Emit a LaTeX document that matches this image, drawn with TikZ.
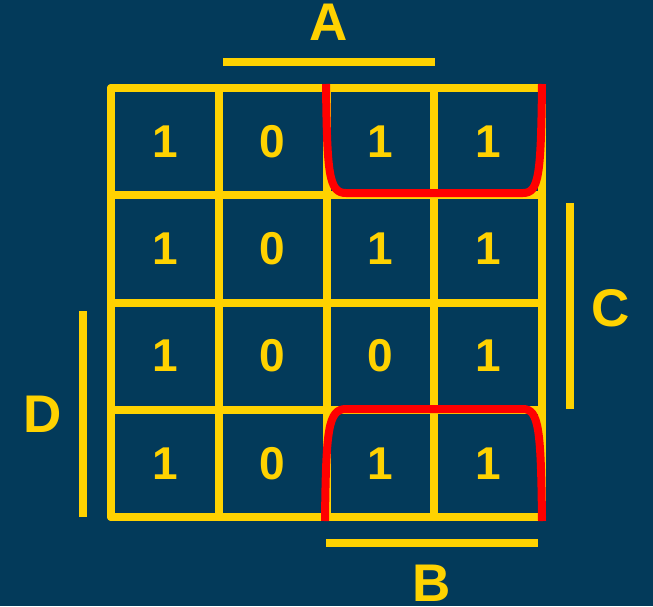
\documentclass[tikz,border=0pt]{standalone}
\usepackage{fontspec}
\setmainfont{Liberation Sans}
\definecolor{bgblue}{RGB}{3,58,90}
\definecolor{kyellow}{RGB}{255,210,0}
\definecolor{kred}{RGB}{255,0,0}
\tikzset{
  gridline/.style={draw=kyellow,line width=8pt,line cap=round,line join=round},
  barline/.style={draw=kyellow,line width=8pt},
  loopline/.style={draw=kred,line width=8pt},
  digit/.style={text=kyellow,inner sep=0pt,font=\bfseries\fontsize{46}{46}\selectfont},
  varlabel/.style={text=kyellow,inner sep=0pt,font=\bfseries\fontsize{53}{53}\selectfont}
}
\begin{document}
\begin{tikzpicture}[x=1pt,y=-1pt]
\fill[bgblue] (0,0) rectangle (653,606);
\useasboundingbox (0,0) rectangle (653,606);
% grid
\foreach \x in {111,218.75,326.5,434.25,542} \draw[gridline] (\x,88) -- (\x,517);
\foreach \y in {88,195.25,302.5,409.75,517} \draw[gridline] (111,\y) -- (542,\y);
% cell values
\def\vals{{1,0,1,1},{1,0,1,1},{1,0,0,1},{1,0,1,1}}
\foreach \r/\row in {1/{1,0,1,1},2/{1,0,1,1},3/{1,0,0,1},4/{1,0,1,1}}{
  \foreach \v [count=\c] in \row {
    \node[digit] (c\r\c) at ({111+(\c-0.5)*107.75},{88+(\r-0.5)*107.25}) {\v};
  }
}
% variable bars
\coordinate (a1) at (223,62); \coordinate (a2) at (435,62);
\coordinate (b1) at (326,543); \coordinate (b2) at (538,543);
\coordinate (cc1) at (570,203); \coordinate (cc2) at (570,409);
\coordinate (d1) at (83,311); \coordinate (d2) at (83,517);
\draw[barline] (a1) -- (a2);
\draw[barline] (b1) -- (b2);
\draw[barline] (cc1) -- (cc2);
\draw[barline] (d1) -- (d2);
\node[varlabel] (A) at (329,22) {A};
\node[varlabel] (B) at (432,583) {B};
\node[varlabel] (C) at (611,308) {C};
\node[varlabel] (D) at (43,414) {D};
% loops
\draw[loopline] (326,84) .. controls (327,175) and (329,193) .. (346,193) -- (523,193) .. controls (539,193) and (541,175) .. (542,84);
\draw[loopline] (325,521) .. controls (326,430) and (328,409) .. (346,409) -- (523,409) .. controls (539,409) and (541,430) .. (542,521);
\end{tikzpicture}
\end{document}
